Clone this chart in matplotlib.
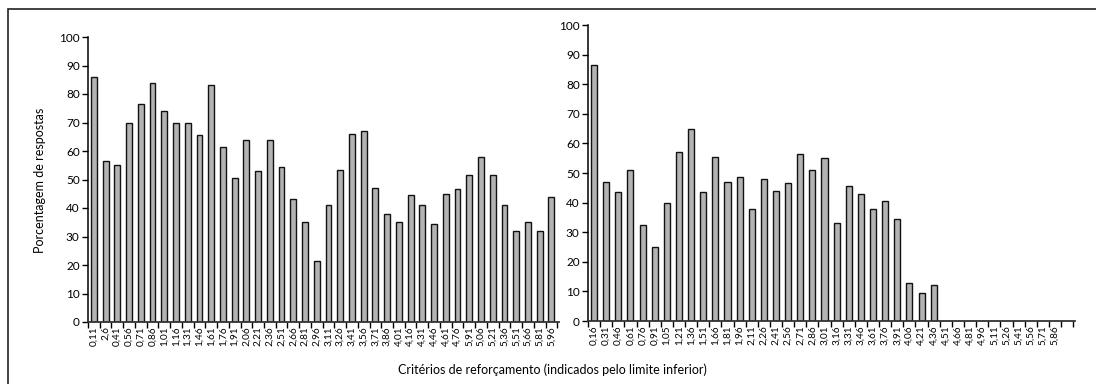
import numpy as np
import matplotlib.pyplot as plt
from matplotlib.patches import Rectangle

plt.rcParams['font.family'] = ['Lato', 'DejaVu Sans']

# Left panel: reinforcement criteria (lower limit) and % of responses
left_labels = ['0,11', '2,6', '0,41', '0,56', '0,71', '0,86', '1,01', '1,16', '1,31', '1,46',
               '1,61', '1,76', '1,91', '2,06', '2,21', '2,36', '2,51', '2,66', '2,81', '2,96',
               '3,11', '3,26', '3,41', '3,56', '3,71', '3,86', '4,01', '4,16', '4,31', '4,46',
               '4,61', '4,76', '5,91', '5,06', '5,21', '5,36', '5,51', '5,66', '5,81', '5,96']
left_values = [86, 56.5, 55, 70, 76.5, 84, 74, 70, 70, 65.5,
               83, 61.5, 50.5, 64, 53, 64, 54.5, 43, 35, 21.5,
               41, 53.5, 66, 67, 47, 38, 35, 44.5, 41, 34.5,
               45, 46.5, 51.5, 58, 51.5, 41, 32, 35, 32, 44]

# Right panel
right_labels = ['0,16', '0,31', '0,46', '0,61', '0,76', '0,91', '1,05', '1,21', '1,36', '1,51',
                '1,66', '1,81', '1,96', '2,11', '2,26', '2,41', '2,56', '2,71', '2,86', '3,01',
                '3,16', '3,31', '3,46', '3,61', '3,76', '3,91', '4,06', '4,21', '4,36', '4,51',
                '4,66', '4,81', '4,96', '5,11', '5,26', '5,41', '5,56', '5,71', '5,86', '']
right_values = [86.5, 47, 43.5, 51, 32.5, 25, 40, 57, 65, 43.5,
                55.5, 47, 48.5, 38, 48, 44, 46.5, 56.5, 51, 55,
                33, 45.5, 43, 38, 40.5, 34.5, 13, 9.5, 12, 0,
                0, 0, 0, 0, 0, 0, 0, 0, 0, 0]

W, H = 1096, 384
fig = plt.figure(figsize=(W / 100, H / 100), dpi=100)

# outer frame (only top and left edges are visible in the original)
fig.patches.append(Rectangle((8 / W, -0.1), 1.2, (H - 9) / H + 0.1, transform=fig.transFigure,
                             fill=False, edgecolor='#222222', lw=1.2))


def px_axes(x0, x1, ytop, ybot):
    return fig.add_axes([x0 / W, (H - ybot) / H, (x1 - x0) / W, (ybot - ytop) / H])


def draw_panel(ax, labels, values):
    n = len(values)
    x = np.arange(n)
    nonzero = [v if v > 0 else np.nan for v in values]
    ax.bar(x, nonzero, width=0.5, color='#b3b3b3', edgecolor='#111111', linewidth=1.0)
    ax.set_xlim(-0.5, n - 0.5 + 0.15)
    ax.set_ylim(0, 100)
    ax.set_yticks(np.arange(0, 101, 10))
    ax.set_yticklabels([str(v) for v in range(0, 101, 10)], fontsize=8.5)
    ax.set_xticks(x)
    ax.set_xticklabels(labels, rotation=90, fontsize=7.2)
    ax.set_xticks(np.arange(n + 1) - 0.5, minor=True)
    ax.tick_params(axis='x', which='major', length=0, pad=3)
    ax.tick_params(axis='x', which='minor', length=4, width=1, direction='out')
    ax.tick_params(axis='y', length=4, width=1, direction='out', pad=2)
    for s in ['top', 'right']:
        ax.spines[s].set_visible(False)
    ax.spines['left'].set_linewidth(1.1)
    ax.spines['bottom'].set_linewidth(1.3)
    ax.spines['bottom'].set_color('#333333')


ax1 = px_axes(88, 559, 37, 322)
draw_panel(ax1, left_labels, left_values)

ax2 = px_axes(588, 1075, 25, 321)
draw_panel(ax2, right_labels, right_values)

fig.text(40 / W, 1 - 180 / H, 'Porcentagem de respostas', rotation=90,
         ha='center', va='center', fontsize=9)
fig.text(552 / W, 1 - 370 / H, 'Critérios de reforçamento (indicados pelo limite inferior)',
         ha='center', va='center', fontsize=9)

fig.savefig('out.png', dpi=100)
